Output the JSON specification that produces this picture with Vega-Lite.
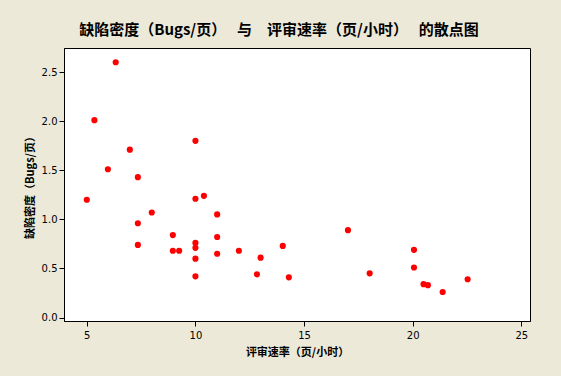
{
  "$schema": "https://vega.github.io/schema/vega-lite/v6.json",
  "width": 466,
  "height": 273,
  "autosize": {"type": "none"},
  "padding": {"left": 64, "top": 48, "right": 31, "bottom": 55},
  "background": "#ECE9D8",
  "title": {
    "text": "缺陷密度（Bugs/页）　 与　评审速率（页/小时）　 的散点图",
    "font": "Noto Sans CJK SC",
    "fontSize": 15,
    "fontWeight": "bold",
    "color": "#000000",
    "anchor": "middle",
    "dx": -18,
    "offset": 10
  },
  "config": {
    "view": {"stroke": "#000000", "strokeWidth": 1, "fill": "#FFFFFF"},
    "axis": {
      "grid": false,
      "domainColor": "#000000",
      "tickColor": "#000000",
      "tickSize": 5,
      "labelFont": "DejaVu Sans",
      "labelFontSize": 10,
      "labelColor": "#000000",
      "titleFont": "Noto Sans CJK SC",
      "titleFontSize": 11,
      "titleFontWeight": "bold",
      "titleColor": "#000000"
    }
  },
  "data": {
    "values": [
      {"rate": 5.0, "density": 1.20},
      {"rate": 5.35, "density": 2.01},
      {"rate": 6.33, "density": 2.60},
      {"rate": 5.97, "density": 1.51},
      {"rate": 6.98, "density": 1.71},
      {"rate": 7.35, "density": 1.43},
      {"rate": 7.35, "density": 0.96},
      {"rate": 7.35, "density": 0.74},
      {"rate": 7.99, "density": 1.07},
      {"rate": 10.0, "density": 1.80},
      {"rate": 10.0, "density": 1.21},
      {"rate": 10.39, "density": 1.24},
      {"rate": 11.0, "density": 1.05},
      {"rate": 8.96, "density": 0.84},
      {"rate": 11.0, "density": 0.82},
      {"rate": 8.96, "density": 0.68},
      {"rate": 9.25, "density": 0.68},
      {"rate": 10.0, "density": 0.76},
      {"rate": 10.0, "density": 0.71},
      {"rate": 10.0, "density": 0.60},
      {"rate": 10.0, "density": 0.42},
      {"rate": 11.0, "density": 0.65},
      {"rate": 12.0, "density": 0.68},
      {"rate": 13.0, "density": 0.61},
      {"rate": 14.02, "density": 0.73},
      {"rate": 12.83, "density": 0.44},
      {"rate": 14.3, "density": 0.41},
      {"rate": 17.02, "density": 0.89},
      {"rate": 18.02, "density": 0.45},
      {"rate": 20.06, "density": 0.69},
      {"rate": 20.06, "density": 0.51},
      {"rate": 20.5, "density": 0.34},
      {"rate": 20.7, "density": 0.33},
      {"rate": 21.38, "density": 0.26},
      {"rate": 22.53, "density": 0.39}
    ]
  },
  "mark": {"type": "circle", "color": "#FF0000", "opacity": 1, "size": 38},
  "encoding": {
    "x": {
      "field": "rate",
      "type": "quantitative",
      "scale": {"domain": [3.95, 25.4], "nice": false, "zero": false},
      "axis": {"values": [5, 10, 15, 20, 25], "title": "评审速率（页/小时）", "labelPadding": 4, "titlePadding": 6}
    },
    "y": {
      "field": "density",
      "type": "quantitative",
      "scale": {"domain": [-0.035, 2.745], "nice": false, "zero": false},
      "axis": {"values": [0, 0.5, 1, 1.5, 2, 2.5], "format": ".1f", "title": "缺陷密度（Bugs/页）", "labelPadding": 2, "titlePadding": 6}
    }
  }
}
